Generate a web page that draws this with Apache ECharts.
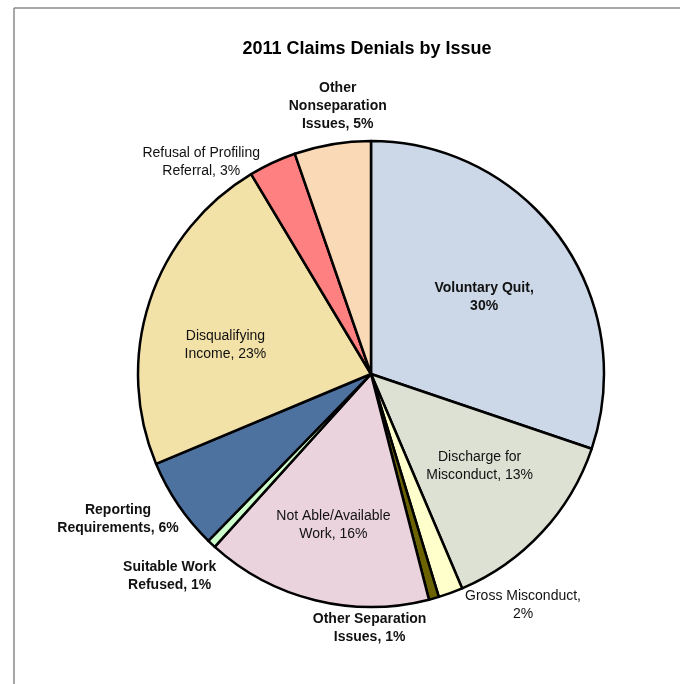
<!DOCTYPE html>
<html>
<head>
<meta charset="utf-8">
<script src="https://cdn.jsdelivr.net/npm/echarts@6/dist/echarts.min.js"></script>
<style>html,body{margin:0;padding:0;background:#fff}#c{width:680px;height:684px}</style>
</head>
<body>
<div id="c"></div>
<script>
var titleText = '2011 Claims Denials by Issue';
var categories = ['Voluntary Quit', 'Discharge for\nMisconduct', 'Gross Misconduct,\n', 'Other Separation\nIssues', 'Not Able/Available\nWork', 'Suitable Work\nRefused', 'Reporting\nRequirements', 'Disqualifying\nIncome', 'Refusal of Profiling\nReferral', 'Other\nNonseparation\nIssues'];
var values = [30.2, 13.4, 1.7, 0.7, 15.7, 0.6, 6.4, 22.7, 3.3, 5.3];

var colors = ['#CCD8E8', '#DDE1D3', '#FFFFCC', '#6B6300', '#EBD3DD', '#CCFFCC', '#4E72A0', '#F3E2A8', '#FF8080', '#FADAB6'];
var labelStyle = [
  {inside: true, bold: true, sep: ',\n', dx: 16, dy: -7},
  {inside: true, bold: false, sep: ', ', dx: 21, dy: 11},
  {inside: false, bold: false, sep: '', dx: 64, dy: 3},
  {inside: false, bold: true, sep: ', ', dx: -72, dy: 20},
  {inside: true, bold: false, sep: ', ', dx: -9, dy: 35},
  {inside: false, bold: true, sep: ', ', dx: -30, dy: 25},
  {inside: false, bold: true, sep: ', ', dx: -47, dy: 9},
  {inside: true, bold: false, sep: ', ', dx: -32, dy: 8},
  {inside: false, bold: false, sep: ', ', dx: -62, dy: 8},
  {inside: false, bold: true, sep: ', ', dx: 12, dy: -28}
];

var FONT = '"Liberation Sans", Arial, sans-serif';

var data = categories.map(function (name, i) {
  var s = labelStyle[i];
  return {
    name: name,
    value: values[i],
    itemStyle: {color: colors[i]},
    label: {
      position: s.inside ? 'inside' : 'outside',
      fontWeight: s.bold ? 'bold' : 'normal'
    }
  };
});

var chart = echarts.init(document.getElementById('c'), null, {renderer: 'canvas'});
chart.setOption({
  animation: false,
  backgroundColor: '#ffffff',
  title: {
    text: titleText,
    left: 362,
    textAlign: 'center',
    top: 35,
    textStyle: {fontFamily: FONT, fontSize: 18, fontWeight: 'bold', color: '#000'}
  },
  graphic: [
    {type: 'line', shape: {x1: 14, y1: 8, x2: 680, y2: 8}, style: {stroke: '#8a8a8a', lineWidth: 1.5}},
    {type: 'line', shape: {x1: 14, y1: 8, x2: 14, y2: 684}, style: {stroke: '#8a8a8a', lineWidth: 1.5}}
  ],
  series: [{
    type: 'pie',
    center: [371, 374],
    radius: 233,
    startAngle: 90,
    clockwise: true,
    avoidLabelOverlap: false,
    itemStyle: {borderColor: '#000', borderWidth: 2.5},
    label: {
      fontFamily: FONT,
      fontSize: 14,
      lineHeight: 18,
      color: '#111',
      formatter: function (p) {
        var s = labelStyle[p.dataIndex];
        return p.name + s.sep + Math.round(p.percent) + '%';
      }
    },
    labelLine: {show: false, length: 10, length2: 0},
    labelLayout: function (p) {
      var s = labelStyle[p.dataIndex];
      return {dx: s.dx, dy: s.dy, align: 'center', verticalAlign: 'middle'};
    },
    emphasis: {disabled: true},
    data: data
  }]
});
</script>
</body>
</html>
